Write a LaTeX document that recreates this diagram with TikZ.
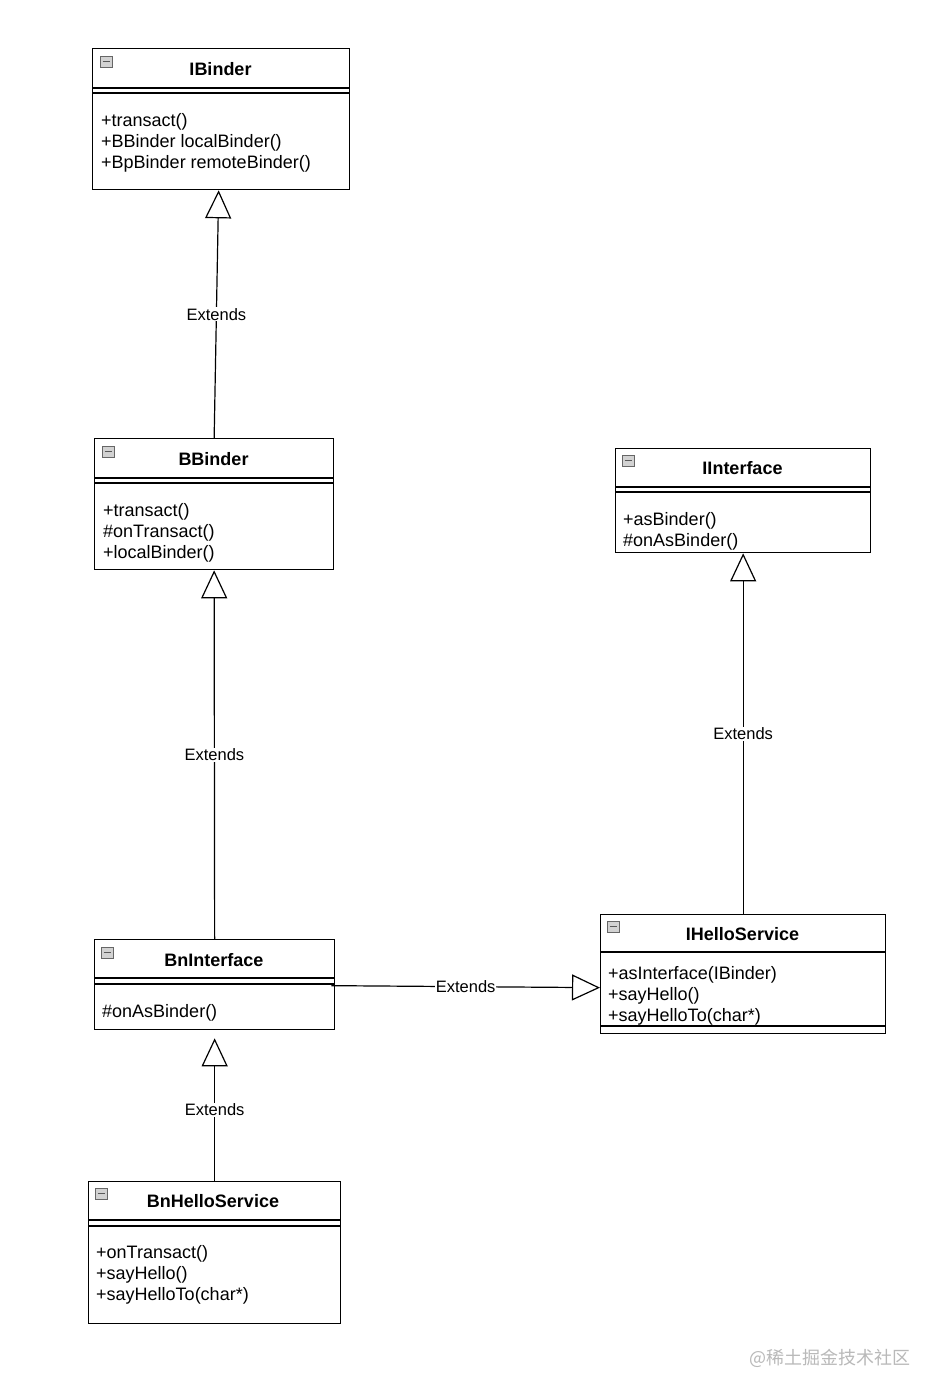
\documentclass[tikz,border=0pt]{standalone}
\usepackage{fontspec}
\setmainfont{Liberation Sans}
\newfontfamily\cjk{Noto Sans CJK SC}
\usetikzlibrary{arrows.meta}
\tikzset{
  umlbox/.style={draw=black, line width=1.3pt, fill=white, anchor=north west, inner sep=0pt},
  sepline/.style={line width=1.3pt},
  ttl/.style={font=\bfseries\fontsize{18}{21}\selectfont, inner sep=0pt, yshift=-1pt},
  mem/.style={font=\fontsize{18}{21}\selectfont, anchor=west, inner sep=0pt, yshift=-2.5pt},
  ext/.style={line width=1.2pt, -{Triangle[open, length=28pt, width=26pt, line width=1.2pt, fill=white]}},
  lbl/.style={font=\fontsize{16.5}{19}\selectfont, fill=white, inner sep=1pt},
  iconbox/.style={draw=gray!80!black, fill=gray!35, line width=0.8pt},
  iconbar/.style={line width=1.8pt, draw=black!65},
}
\newcommand\umlicon[2]{%
  \draw[iconbox] (#1,#2) rectangle ++(12,11);
  \draw[iconbar] (#1+2.5,#2+5.5) -- ++(7,0);}
\begin{document}
\begin{tikzpicture}[x=1pt, y=-1pt]
\fill[white] (0,0) rectangle (940,1399);
\useasboundingbox (0,0) rectangle (940,1399);

% IBinder
\node[umlbox, minimum width=257pt, minimum height=141pt] (ibinder) at (92,48) {};
\draw[sepline] (92,88) -- (349,88) (92,93) -- (349,93);
\umlicon{100}{56}
\node[ttl] (ibinderT) at (220.5,68) {IBinder};
\node[mem] (ib1) at (101,119) {+transact()};
\node[mem] (ib2) at (101,140) {+BBinder localBinder()};
\node[mem] (ib3) at (101,161) {+BpBinder remoteBinder()};

% BBinder
\node[umlbox, minimum width=239pt, minimum height=131pt] (bbinder) at (94,438) {};
\draw[sepline] (94,478) -- (333,478) (94,483) -- (333,483);
\umlicon{102}{446}
\node[ttl] (bbinderT) at (213.5,458) {BBinder};
\node[mem] (bb1) at (103,509) {+transact()};
\node[mem] (bb2) at (103,530) {\#onTransact()};
\node[mem] (bb3) at (103,551) {+localBinder()};

% IInterface
\node[umlbox, minimum width=255pt, minimum height=104pt] (iinterface) at (615,448) {};
\draw[sepline] (615,487) -- (870,487) (615,492) -- (870,492);
\umlicon{622}{455}
\node[ttl] (iinterfaceT) at (742.5,467) {IInterface};
\node[mem] (ii1) at (623,518) {+asBinder()};
\node[mem] (ii2) at (623,539) {\#onAsBinder()};

% IHelloService
\node[umlbox, minimum width=285pt, minimum height=119pt] (ihello) at (600,914) {};
\draw[sepline] (600,952) -- (885,952) (600,1026) -- (885,1026);
\umlicon{607}{921}
\node[ttl] (ihelloT) at (742.5,933) {IHelloService};
\node[mem] (ih1) at (608,972) {+asInterface(IBinder)};
\node[mem] (ih2) at (608,993) {+sayHello()};
\node[mem] (ih3) at (608,1014) {+sayHelloTo(char*)};

% BnInterface
\node[umlbox, minimum width=240pt, minimum height=90pt] (bninterface) at (94,939) {};
\draw[sepline] (94,978) -- (334,978) (94,984) -- (334,984);
\umlicon{101}{947}
\node[ttl] (bninterfaceT) at (214,959) {BnInterface};
\node[mem] (bi1) at (102,1010) {\#onAsBinder()};

% BnHelloService
\node[umlbox, minimum width=252pt, minimum height=142pt] (bnhello) at (88,1181) {};
\draw[sepline] (88,1220) -- (340,1220) (88,1226) -- (340,1226);
\umlicon{95}{1188}
\node[ttl] (bnhelloT) at (213,1200) {BnHelloService};
\node[mem] (bh1) at (96,1251) {+onTransact()};
\node[mem] (bh2) at (96,1272) {+sayHello()};
\node[mem] (bh3) at (96,1293) {+sayHelloTo(char*)};

% connectors
\draw[ext] (bbinder.north) -- node[lbl] (l1) {Extends} ([xshift=-2.5pt]ibinder.south);
\draw[ext] (bninterface.north) -- node[lbl] (l2) {Extends} (bbinder.south);
\draw[ext] (ihello.north) -- node[lbl] (l3) {Extends} (iinterface.south);
\draw[ext] (bnhello.north) -- node[lbl] (l4) {Extends} ([yshift=-8pt]bninterface.south);
\draw[ext] ([xshift=-4pt,yshift=-1pt]bninterface.east) -- node[lbl] (l5) {Extends} ([yshift=-13.5pt]ihello.west);

% watermark
\node[font=\cjk\fontsize{18}{21}\selectfont, text=gray!55, inner sep=0pt] (wm) at (830,1358) {@稀土掘金技术社区};
\end{tikzpicture}
\end{document}
